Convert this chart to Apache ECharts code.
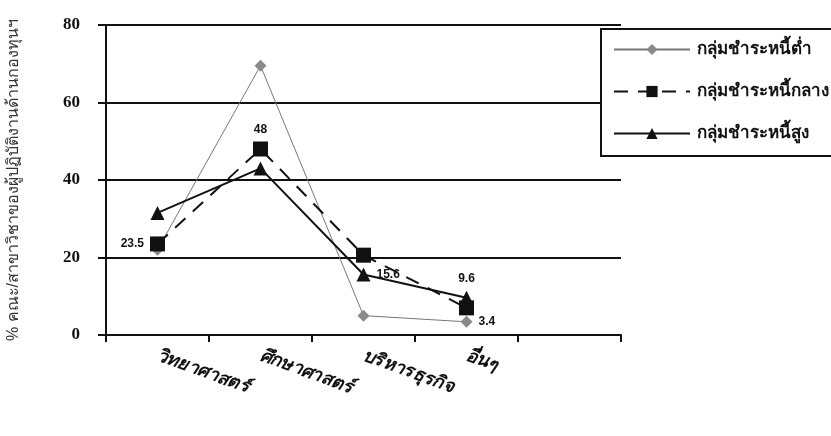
<!DOCTYPE html>
<html>
<head>
<meta charset="utf-8">
<script src="https://cdn.jsdelivr.net/npm/echarts@6/dist/echarts.min.js"></script>
<style>
  html, body { margin: 0; padding: 0; background: #fff; }
  #chart { width: 831px; height: 436px; }
</style>
</head>
<body>
<div id="chart"></div>
<script>
// หมวดคณะ/สาขาวิชา
const categories = ["วิทยาศาสตร์", "ศึกษาศาสตร์", "บริหารธุรกิจ", "อื่นๆ", ""];
const seriesNames = ["กลุ่มชำระหนี้ต่ำ", "กลุ่มชำระหนี้กลาง", "กลุ่มชำระหนี้สูง"];
const lowValues = [22, 69.5, 5, 3.4];
const midValues = [23.5, 48, 20.6, 7];
const highValues = [31.5, 43, 15.6, 9.6];
const yTicks = [0, 20, 40, 60, 80];

// ป้ายตัวเลขที่แสดงบนกราฟ (ชุดข้อมูล, ตำแหน่ง)
const shownLabels = {
  0: { 3: "right" },
  1: { 0: "left", 1: "top" },
  2: { 2: "right", 3: "top" },
};

const labelFont = { fontFamily: "Liberation Sans", fontWeight: "bold", fontSize: 12, color: "#111" };

function withLabels(values, idx) {
  return values.map((v, i) => {
    const pos = shownLabels[idx][i];
    if (!pos) return v;
    return { value: v, label: { show: true, position: pos, distance: 6, ...labelFont } };
  });
}

const chart = echarts.init(document.getElementById("chart"));
chart.setOption({
  animation: false,
  grid: { left: 106, right: 210, top: 25, bottom: 101, outerBoundsMode: "none" },
  legend: {
    left: 601,
    top: 29,
    width: 228,
    orient: "vertical",
    itemWidth: 76,
    itemHeight: 14,
    itemGap: 25,
    padding: [12, 4, 14, 12],
    borderColor: "#111",
    borderWidth: 2,
    backgroundColor: "#fff",
    textStyle: { fontSize: 17, fontWeight: "bold", color: "#111", padding: [0, 0, 0, 2] },
    data: seriesNames,
  },
  xAxis: {
    type: "category",
    data: categories,
    boundaryGap: true,
    axisLine: { lineStyle: { color: "#111", width: 2 } },
    axisTick: { show: true, length: 7, inside: false, lineStyle: { color: "#111", width: 2 } },
    axisLabel: {
      rotate: -20,
      margin: 20,
      fontSize: 18,
      fontStyle: "italic",
      fontWeight: "bold",
      color: "#111",
    },
  },
  yAxis: {
    type: "value",
    min: yTicks[0],
    max: yTicks[yTicks.length - 1],
    interval: 20,
    name: "% คณะ/สาขาวิชาของผู้ปฏิบัติงานด้านกองทุนฯ",
    nameLocation: "middle",
    nameGap: 84,
    nameTextStyle: { fontSize: 16, color: "#333" },
    axisLine: { show: true, lineStyle: { color: "#111", width: 2 } },
    axisTick: { show: true, length: 8, lineStyle: { color: "#111", width: 2 } },
    axisLabel: {
      margin: 26,
      fontFamily: "Liberation Serif",
      fontWeight: "bold",
      fontSize: 17,
      color: "#111",
    },
    splitLine: { show: true, lineStyle: { color: "#111", width: 2 } },
  },
  series: [
    {
      name: seriesNames[0],
      type: "line",
      data: withLabels(lowValues, 0),
      symbol: "diamond",
      symbolSize: 12,
      itemStyle: { color: "#8a8a8a" },
      lineStyle: { color: "#777", width: 1 },
      z: 2,
    },
    {
      name: seriesNames[1],
      type: "line",
      data: withLabels(midValues, 1),
      symbol: "rect",
      symbolSize: 15,
      itemStyle: { color: "#111" },
      lineStyle: { color: "#111", width: 2, type: [14, 10] },
      z: 3,
    },
    {
      name: seriesNames[2],
      type: "line",
      data: withLabels(highValues, 2),
      symbol: "triangle",
      symbolSize: 14,
      itemStyle: { color: "#111" },
      lineStyle: { color: "#111", width: 2 },
      z: 4,
    },
  ],
});
</script>
</body>
</html>
